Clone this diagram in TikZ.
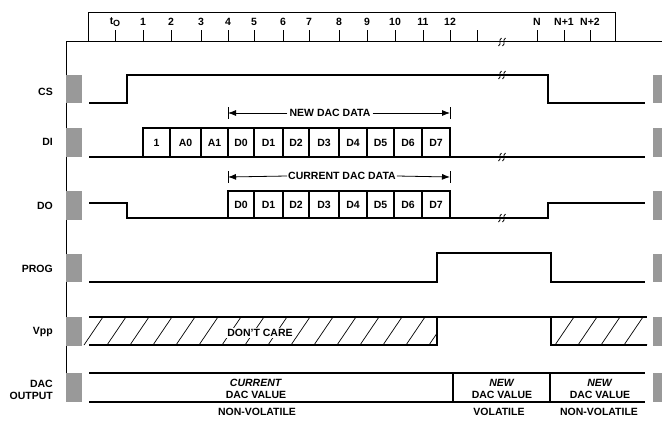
\documentclass[tikz,border=0pt]{standalone}
\usepackage{fontspec}
\setmainfont{Liberation Sans}
\usetikzlibrary{arrows.meta}
\definecolor{blk}{RGB}{153,153,153}
\begin{document}
\begin{tikzpicture}[x=1pt,y=-1pt,
  wave/.style={line width=1.1pt, line join=miter},
  frame/.style={line width=1pt},
  lbl/.style={font=\fontsize{10.5}{12}\selectfont\bfseries, inner sep=0pt},
  gblk/.style={fill=blk, draw=none},
  hatch/.style={line width=0.7pt},
  dimarr/.style={line width=0.8pt, -{Latex[length=8pt,width=6pt]}},
  brk/.pic={
    \draw[line width=0.8pt] (-4.5,4) .. controls (-1,2) and (-5,-2) .. (-1.5,-4);
    \draw[line width=0.8pt] (-0.5,4) .. controls (3,2) and (-1,-2) .. (2.5,-4);
  }]
\useasboundingbox (0,0) rectangle (662,426);

% ruler
\draw[frame] (88,41) -- (88,12) -- (615,12) -- (615,41);
\draw[frame] (66,41) -- (662,41);
\draw[frame] (66,41) -- (66,397);
\node[lbl] (t0) at (115,22) {t\raisebox{-2.5pt}{\fontsize{9}{10}\selectfont O}};
\draw[frame] (115,30) -- (115,41);
\foreach \x/\t in {143/1,171/2,201/3,228/4,254/5,283/6,309/7,339/8,367/9,395/10,423/11,450/12,537/N,564/N+1,590/N+2}{
  \draw[frame] (\x,30) -- (\x,41);
  \node[lbl] (tk\x) at (\x,22) {\t};
}
\draw[frame] (477,30) -- (477,41);
\pic at (503,42) {brk};

% gray markers
\foreach \a/\b in {75/103,128/157,191/220,254/282,317/346,373/402}{
  \fill[blk] (66,\a) rectangle (82,\b);
  \fill[blk] (653,\a) rectangle (662,\b);
}

% signal labels
\node[lbl, anchor=east] (lcs) at (53,92) {CS};
\node[lbl, anchor=east] (ldi) at (53,142) {DI};
\node[lbl, anchor=east] (ldo) at (53,206) {DO};
\node[lbl, anchor=east] (lprog) at (53,269) {PROG};
\node[lbl, anchor=east] (lvpp) at (53,332) {Vpp};
\node[lbl, anchor=east, align=right] (ldac) at (53,390) {DAC\\OUTPUT};

% CS
\draw[wave] (89,103) -- (127,103) -- (127,75) -- (548,75) -- (548,103) -- (645,103);
\pic at (503,75) {brk};

% DI
\draw[wave] (89,157) -- (645,157);
\draw[wave] (143,157) -- (143,128) -- (450,128) -- (450,157);
\foreach \x in {170,201,228,254,283,309,339,367,394,422}{
  \draw[wave] (\x,128) -- (\x,157);
}
\foreach \c/\t in {156.5/1,185.5/A0,214.5/A1,241/D0,268.5/D1,296/D2,324/D3,353/D4,380.5/D5,408/D6,436/D7}{
  \node[lbl] (di\t) at (\c,143) {\t};
}
\pic at (503,157) {brk};

% NEW DAC DATA arrow
\draw[frame] (228,107) -- (228,119);
\draw[frame] (450,107) -- (450,119);
\coordinate (nl) at (228,113);
\coordinate (nr) at (450,113);
\node[lbl, fill=white, inner xsep=2pt] (newdat) at (330,113) {NEW DAC DATA};
\draw[dimarr] (newdat.west) -- (nl);
\draw[dimarr] (newdat.east) -- (nr);

% CURRENT DAC DATA arrow
\draw[frame] (228,171) -- (228,183);
\draw[frame] (450,171) -- (450,183);
\coordinate (cl) at (228,177);
\coordinate (cr) at (450,177);
\node[lbl, fill=white, inner xsep=1pt] (curdat) at (342,176) {CURRENT DAC DATA};
\draw[dimarr] (curdat.west) -- (cl);
\draw[dimarr] (curdat.east) -- (cr);

% DO
\draw[wave] (89,203) -- (127,203) -- (127,218) -- (548,218) -- (548,203) -- (645,203);
\draw[wave] (228,218) -- (228,191) -- (450,191) -- (450,218);
\foreach \x in {254,283,309,339,367,394,422}{
  \draw[wave] (\x,191) -- (\x,218);
}
\foreach \c/\t in {241/D0,268.5/D1,296/D2,324/D3,353/D4,380.5/D5,408/D6,436/D7}{
  \node[lbl] (do\t) at (\c,205) {\t};
}
\pic at (503,218) {brk};

% PROG
\draw[wave] (89,282) -- (437,282) -- (437,253) -- (551,253) -- (551,282) -- (645,282);

% Vpp
\begin{scope}
  \clip (80,317) rectangle (437,345);
  \foreach \i in {0,...,16}{
    \draw[hatch] ({84+23*\i},345) -- ({103+23*\i},317);
  }
\end{scope}
\begin{scope}
  \clip (551,317) rectangle (647,345);
  \foreach \i in {0,...,5}{
    \draw[hatch] ({555+23*\i},345) -- ({574+23*\i},317);
  }
\end{scope}
\draw[wave] (89,317) -- (647,317);
\draw[wave] (89,345) -- (437,345) -- (437,317);
\draw[wave] (551,317) -- (551,345) -- (647,345);
\node[lbl, fill=white, inner sep=1pt] (dc) at (260,333) {DON'T CARE};

% DAC OUTPUT
\draw[wave] (89,373) -- (645,373);
\draw[wave] (89,402) -- (645,402);
\draw[wave] (453,373) -- (453,402);
\draw[wave] (550,373) -- (550,402);
\node[lbl, align=center] (cur) at (256,389) {\textit{CURRENT}\\DAC VALUE};
\node[lbl] (nv1) at (257,412) {NON-VOLATILE};
\node[lbl, align=center] (new1) at (502,389) {\textit{NEW}\\DAC VALUE};
\node[lbl] (vol) at (499,412) {VOLATILE};
\node[lbl, align=center] (new2) at (600,389) {\textit{NEW}\\DAC VALUE};
\node[lbl] (nv2) at (599,412) {NON-VOLATILE};
\end{tikzpicture}
\end{document}
